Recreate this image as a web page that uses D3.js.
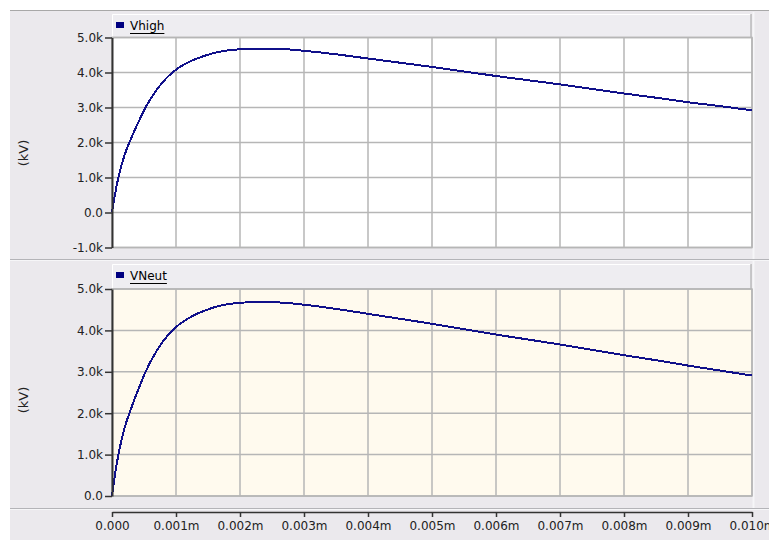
<!DOCTYPE html>
<html>
<head>
<meta charset="utf-8">
<script src="https://cdn.jsdelivr.net/npm/d3@7"></script>
<style>
  html, body { margin: 0; padding: 0; background: #ffffff; }
  svg { display: block; }
</style>
</head>
<body>
<div id="chart"></div>
<script>
// Time axis samples (seconds) and the two traces (kV)
var timeS = [0, 0.00005, 0.0001, 0.00015, 0.0002, 0.0003, 0.0004, 0.00053, 0.0007, 0.00085,
  0.001, 0.0011, 0.00125, 0.00145, 0.0017, 0.0019, 0.0022, 0.0025, 0.00275, 0.003,
  0.0035, 0.004, 0.0045, 0.005, 0.0055, 0.006, 0.0065, 0.007, 0.0075, 0.008,
  0.0085, 0.009, 0.0095, 0.010];
var vHighKV = [0, 0.55, 1.0, 1.36, 1.66, 2.12, 2.53, 3.02, 3.51, 3.84,
  4.08, 4.2, 4.34, 4.48, 4.6, 4.65, 4.68, 4.68, 4.66, 4.62,
  4.52, 4.40, 4.28, 4.16, 4.03, 3.90, 3.78, 3.66, 3.53, 3.40,
  3.28, 3.15, 3.04, 2.92];
var vNeutKV = [0, 0.55, 1.0, 1.36, 1.66, 2.12, 2.53, 3.02, 3.51, 3.84,
  4.08, 4.2, 4.34, 4.48, 4.6, 4.65, 4.68, 4.68, 4.66, 4.62,
  4.52, 4.40, 4.28, 4.16, 4.03, 3.90, 3.78, 3.66, 3.53, 3.40,
  3.28, 3.15, 3.03, 2.91];

var xTickValues = [0, 0.001, 0.002, 0.003, 0.004, 0.005, 0.006, 0.007, 0.008, 0.009, 0.010];
var xTickLabels = ['0.000', '0.001m', '0.002m', '0.003m', '0.004m', '0.005m', '0.006m', '0.007m', '0.008m', '0.009m', '0.010m'];
var yTicksHigh = [-1, 0, 1, 2, 3, 4, 5];
var yTicksNeut = [0, 1, 2, 3, 4, 5];

var W = 769, H = 540;
var FONT = 'DejaVu Sans, Verdana, sans-serif';
var BG = '#ebe9ed';
var GRID = '#b6b6b6';
var TRACE = '#10108a';

var svg = d3.select('#chart').append('svg').attr('width', W).attr('height', H);

// window frame
svg.append('rect').attr('x', 10).attr('y', 10).attr('width', W - 10).attr('height', H - 10).attr('fill', BG);
svg.append('line').attr('x1', 10).attr('x2', W).attr('y1', 10.5).attr('y2', 10.5).attr('stroke', '#a8a8a8');
svg.append('line').attr('x1', 753.5).attr('x2', 753.5).attr('y1', 12).attr('y2', 509).attr('stroke', '#f6f6f8').attr('stroke-width', 2);

var x = d3.scaleLinear().domain([0, 0.010]).range([112, 752]);

function fmtK(v) { return v === 0 ? '0.0' : v.toFixed(1) + 'k'; }

function drawPanel(opt) {
  var y = d3.scaleLinear().domain(opt.domain).range([opt.bottom, opt.top]);

  // header bar with legend
  var hdr = svg.append('g');
  hdr.append('rect').attr('x', 112).attr('y', opt.hdrTop).attr('width', 639).attr('height', opt.top - opt.hdrTop)
    .attr('fill', '#eeedf1');
  hdr.append('path').attr('d', 'M112.5,' + (opt.top) + 'V' + (opt.hdrTop + 0.5) + 'H751')
    .attr('fill', 'none').attr('stroke', '#ffffff');
  hdr.append('line').attr('x1', 751).attr('x2', 751).attr('y1', opt.hdrTop).attr('y2', opt.top)
    .attr('stroke', '#a0a0a0');
  hdr.append('rect').attr('x', 116).attr('y', opt.hdrTop + 8).attr('width', 8).attr('height', 6).attr('fill', '#000080');
  var lbl = hdr.append('text').attr('x', 130).attr('y', opt.hdrTop + 16)
    .attr('font-family', FONT).attr('font-size', 12).attr('fill', '#000').text(opt.name);
  var tw = lbl.node().getComputedTextLength();
  hdr.append('line').attr('x1', 130).attr('x2', 130 + tw).attr('y1', opt.hdrTop + 19.5).attr('y2', opt.hdrTop + 19.5)
    .attr('stroke', '#000');

  // plot area
  svg.append('rect').attr('x', 112).attr('y', opt.top).attr('width', 640).attr('height', opt.bottom - opt.top)
    .attr('fill', opt.fill).attr('stroke', GRID).attr('stroke-width', 1.5);

  // grid
  var g = svg.append('g');
  g.selectAll('.vg').data(xTickValues.slice(1)).enter().append('line')
    .attr('x1', function(d) { return x(d); }).attr('x2', function(d) { return x(d); })
    .attr('y1', opt.top).attr('y2', opt.bottom).attr('stroke', GRID).attr('stroke-width', 1.5);
  g.selectAll('.hg').data(opt.ticks).enter().append('line')
    .attr('x1', 112).attr('x2', 752)
    .attr('y1', function(d) { return y(d); }).attr('y2', function(d) { return y(d); })
    .attr('stroke', GRID).attr('stroke-width', 1.5);

  // trace
  var line = d3.line()
    .x(function(d, i) { return x(timeS[i]); })
    .y(function(d) { return y(d); })
    .curve(d3.curveMonotoneX);
  svg.append('path').datum(opt.values).attr('d', line)
    .attr('fill', 'none').attr('stroke', TRACE).attr('stroke-width', 2)
    .attr('shape-rendering', 'crispEdges');

  // y axis
  var ax = svg.append('g').attr('transform', 'translate(112,0)')
    .call(d3.axisLeft(y).tickValues(opt.ticks).tickFormat(fmtK).tickSize(7).tickSizeOuter(0).tickPadding(2));
  ax.select('.domain').attr('stroke', '#333').attr('stroke-width', 2);
  ax.selectAll('.tick line').attr('stroke', '#333').attr('stroke-width', 1.5);
  ax.selectAll('text').attr('font-family', FONT).attr('font-size', 12).attr('fill', '#222');

  svg.append('text').attr('transform', 'translate(28,' + opt.ylabY + ') rotate(-90)')
    .attr('text-anchor', 'middle').attr('font-family', FONT).attr('font-size', 13).attr('fill', '#222')
    .text('(kV)');
}

drawPanel({ name: 'Vhigh', values: vHighKV, domain: [-1, 5], ticks: yTicksHigh,
  hdrTop: 14, top: 37.5, bottom: 247.5, fill: '#ffffff', ylabY: 153 });

// separator between panels
svg.append('line').attr('x1', 10).attr('x2', W).attr('y1', 259.5).attr('y2', 259.5).attr('stroke', '#b4b4b8');
svg.append('line').attr('x1', 10).attr('x2', W).attr('y1', 260.5).attr('y2', 260.5).attr('stroke', '#f6f6f8');

drawPanel({ name: 'VNeut', values: vNeutKV, domain: [0, 5], ticks: yTicksNeut,
  hdrTop: 264, top: 289, bottom: 496, fill: '#fffaee', ylabY: 400 });

// bottom separator and x axis
svg.append('line').attr('x1', 10).attr('x2', W).attr('y1', 508.5).attr('y2', 508.5).attr('stroke', '#b4b4b8');
svg.append('line').attr('x1', 10).attr('x2', W).attr('y1', 509.5).attr('y2', 509.5).attr('stroke', '#f6f6f8');

var xa = svg.append('g').attr('transform', 'translate(0,512)')
  .call(d3.axisBottom(x).tickValues(xTickValues)
    .tickFormat(function(d, i) { return xTickLabels[i]; })
    .tickSize(5).tickSizeOuter(0).tickPadding(4));
xa.select('.domain').attr('stroke', '#333').attr('stroke-width', 1.5);
xa.selectAll('.tick line').attr('stroke', '#333').attr('stroke-width', 1.5);
xa.selectAll('text').attr('font-family', FONT).attr('font-size', 12).attr('fill', '#222');
</script>
</body>
</html>
